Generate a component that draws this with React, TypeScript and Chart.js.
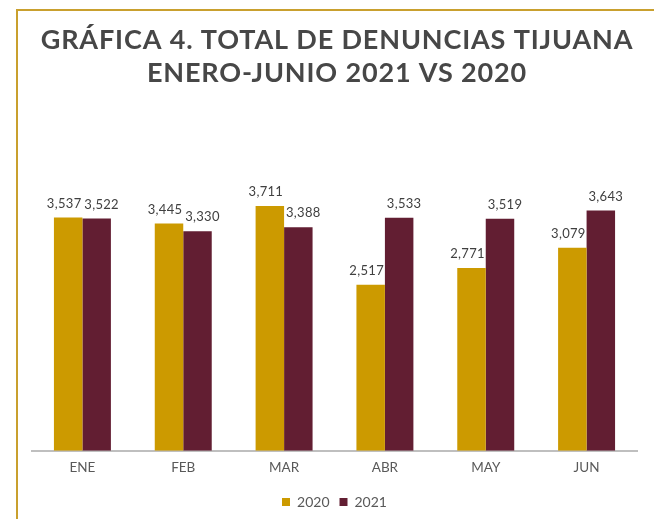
import React, { useEffect, useRef } from "react";
import { Chart, registerables } from "chart.js";

Chart.register(...registerables);

const categories = ["ENE", "FEB", "MAR", "ABR", "MAY", "JUN"];
const values2020 = [3537, 3445, 3711, 2517, 2771, 3079];
const values2021 = [3522, 3330, 3388, 3533, 3519, 3643];
const seriesNames = ["2020", "2021"];
const titleLines = ["GRÁFICA 4. TOTAL DE DENUNCIAS TIJUANA", "ENERO-JUNIO 2021 VS 2020"];

const GOLD = "#CC9A00";
const MAROON = "#621E32";

const titlePlugin = {
  id: "customTitle",
  afterDraw(chart: any) {
    const ctx = chart.ctx;
    ctx.save();
    ctx.fillStyle = "#474747";
    ctx.font = "bold 27px Lato";
    (ctx as any).letterSpacing = "0.85px";
    ctx.textAlign = "center";
    ctx.textBaseline = "alphabetic";
    ctx.fillText(titleLines[0], 337, 49);
    ctx.fillText(titleLines[1], 337, 82);
    ctx.restore();
  },
};

const labelPlugin = {
  id: "barLabels",
  afterDatasetsDraw(chart: any) {
    const ctx = chart.ctx;
    ctx.save();
    ctx.fillStyle = "#404040";
    ctx.font = "13px Lato";
    (ctx as any).letterSpacing = "0.3px";
    ctx.textAlign = "center";
    ctx.textBaseline = "alphabetic";
    const offsets = [-4, 5];
    chart.data.datasets.forEach((ds: any, di: number) => {
      const meta = chart.getDatasetMeta(di);
      meta.data.forEach((bar: any, i: number) => {
        const v = ds.data[i] as number;
        ctx.fillText(v.toLocaleString("en-US"), bar.x + offsets[di], bar.y - 10);
      });
    });
    ctx.restore();
  },
};

export default function App() {
  const ref = useRef<HTMLCanvasElement | null>(null);
  useEffect(() => {
    if (!ref.current) return;
    const chart = new Chart(ref.current, {
      type: "bar",
      data: {
        labels: categories,
        datasets: [
          { label: seriesNames[0], data: values2020, backgroundColor: GOLD },
          { label: seriesNames[1], data: values2021, backgroundColor: MAROON },
        ],
      },
      options: {
        responsive: false,
        animation: false,
        maintainAspectRatio: false,
        layout: { padding: { left: 32, right: 17, top: 187, bottom: 0 } },
        datasets: {
          bar: { categoryPercentage: 0.565, barPercentage: 1.0 },
        } as any,
        scales: {
          x: {
            grid: { display: false, drawTicks: false },
            border: { color: "#BFBFBF", width: 2 },
            ticks: { color: "#595959", font: { family: "Lato", size: 13.5 }, padding: 9 },
          },
          y: { display: false, min: 0, max: 4000 },
        },
        plugins: {
          title: { display: false },
          tooltip: { enabled: false },
          legend: {
            position: "bottom",
            labels: {
              boxWidth: 8,
              boxHeight: 8,
              color: "#595959",
              font: { family: "Lato", size: 14 },
              padding: 10,
            },
          },
        },
      },
      plugins: [titlePlugin, labelPlugin],
    });
    return () => chart.destroy();
  }, []);
  return (
    <div style={{ position: "absolute", left: 0, top: 0, width: 654, height: 519, background: "#fff" }}>
      <div
        style={{
          position: "absolute",
          left: 16,
          top: 9,
          width: 638,
          height: 510,
          borderTop: "2px solid #C9A02E",
          borderLeft: "2px solid #C9A02E",
          boxSizing: "border-box",
        }}
      />
      <canvas ref={ref} width={654} height={519} style={{ position: "absolute", left: 0, top: 0 }} />
    </div>
  );
}
